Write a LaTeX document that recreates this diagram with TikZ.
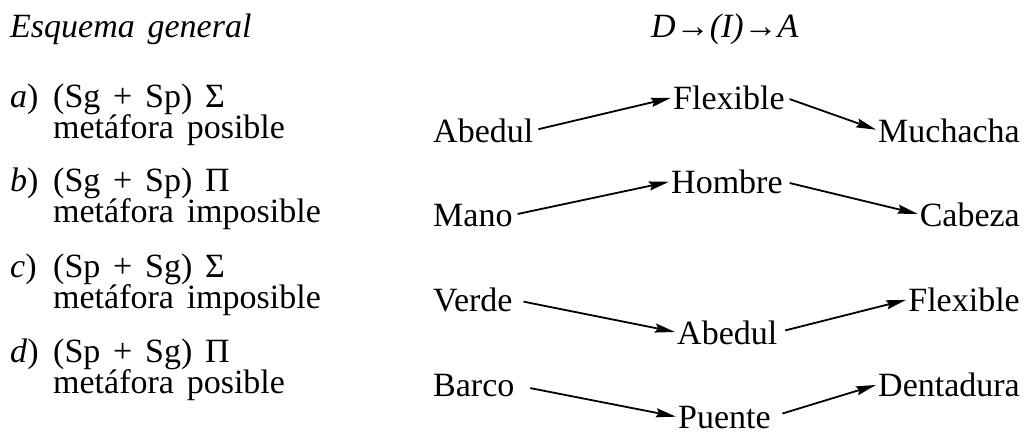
\documentclass[tikz,border=0pt]{standalone}
\usepackage{fontspec}
\setmainfont{Liberation Serif}[WordSpace=1.5]
\usetikzlibrary{positioning,arrows.meta}
\tikzset{
  word/.style={font=\fontsize{34}{36}\selectfont, inner sep=0pt, anchor=base west},
  endword/.style={word, anchor=base east},
  link/.style={-{Stealth[length=20pt,width=9pt,inset=2.5pt]}, line width=1.8pt,
    shorten <=5pt, shorten >=2pt},
}

\begin{document}
\begin{tikzpicture}[x=1pt,y=-1pt]
    \useasboundingbox (0,0) rectangle (1025,434);

    % Headings
    \node[word] (esq) at (10,37) {\textit{Esquema general}};
    \node[word] (dia) at (651,37) {\textit{D→(I)→A}};

    % Cases
    \node[word] (ca) at (10,107) {\textit{a})};
    \node[word] (ca1) at (53,107) {(Sg + Sp) Σ};
    \node[word] (ca2) at (53,138) {metáfora posible};
    \node[word] (cb) at (10,191) {\textit{b})};
    \node[word] (cb1) at (53,191) {(Sg + Sp) Π};
    \node[word] (cb2) at (53,222) {metáfora imposible};
    \node[word] (cc) at (10,277) {\textit{c})};
    \node[word] (cc1) at (53,277) {(Sp + Sg) Σ};
    \node[word] (cc2) at (53,308) {metáfora imposible};
    \node[word] (cd) at (10,362) {\textit{d})};
    \node[word] (cd1) at (53,362) {(Sp + Sg) Π};
    \node[word] (cd2) at (53,393) {metáfora posible};

    % a) Abedul -> Flexible -> Muchacha
    \node[word] (da) at (433,142) {Abedul};
    \node[word] (ia) at (673,109) {Flexible};
    \node[endword] (aa) at (1020,142) {Muchacha};
    \draw[link] (da.east) -- (ia.west);
    \draw[link] (ia.east) -- (aa.west);

    % b) Mano -> Hombre -> Cabeza
    \node[word] (db) at (433,226) {Mano};
    \node[word] (ib) at (671,193) {Hombre};
    \node[endword] (ab) at (1020,226) {Cabeza};
    \draw[link] (db.east) -- (ib.west);
    \draw[link, shorten <=7pt] (ib.east) -- (ab.west);

    % c) Verde -> Abedul -> Flexible
    \node[word] (dc) at (433,311) {Verde};
    \node[word] (ic) at (677,344) {Abedul};
    \node[endword] (ac) at (1020,311) {Flexible};
    \draw[link, shorten <=11pt] (dc.east) -- (ic.west);
    \draw[link, shorten <=8pt] (ic.east) -- (ac.west);

    % d) Barco -> Puente -> Dentadura
    \node[word] (dd) at (433,396) {Barco};
    \node[word] (id) at (678,428) {Puente};
    \node[endword] (ad) at (1020,396) {Dentadura};
    \draw[link, shorten <=16pt] (dd.east) -- (id.west);
    \draw[link, shorten <=12pt] (id.east) -- (ad.west);
\end{tikzpicture}
\end{document}
